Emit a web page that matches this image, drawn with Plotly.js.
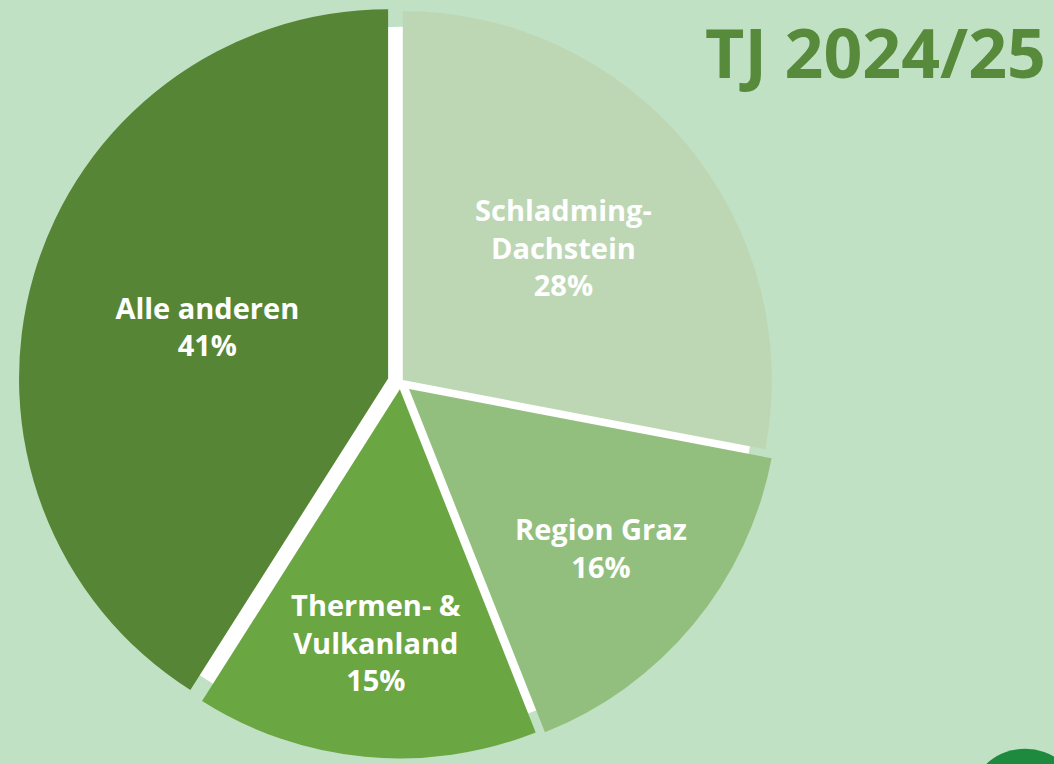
<!DOCTYPE html>
<html>
<head>
<meta charset="utf-8">
<script src="https://cdn.plot.ly/plotly-3.0.1.min.js"></script>
<style>
  html, body { margin: 0; padding: 0; background: #c1e1c5; }
  #chart { width: 1054px; height: 764px; }
</style>
</head>
<body>
<div id="chart"></div>
<script>
// Regionen und Anteile (TJ 2024/25)
let regionen = ['Schladming-<br>Dachstein', 'Region Graz', 'Thermen- &<br>Vulkanland', 'Alle anderen'];
let anteile = [28, 16, 15, 41];
let farben = ['#bdd7b4', '#93bf7e', '#6aa642', '#568535'];
let pulls = [0.008, 0.03, 0.02, 0.035];

let hintergrund = '#c1e1c5';

// weiße Scheibe darunter, damit die Lücken weiß erscheinen
let unterlage = {
    type: 'pie',
    values: [1],
    labels: [''],
    marker: { colors: ['#ffffff'] },
    textinfo: 'none',
    hoverinfo: 'skip',
    showlegend: false,
    sort: false,
    domain: { x: [0, 0.76], y: [0.035, 0.965] }
};

let torte = {
    type: 'pie',
    values: anteile,
    labels: regionen,
    sort: false,
    direction: 'clockwise',
    rotation: 0,
    pull: pulls,
    marker: { colors: farben, line: { width: 0 } },
    textinfo: 'label+percent',
    texttemplate: '<b>%{label}<br>%{percent:.0%}</b>',
    textposition: 'inside',
    insidetextorientation: 'horizontal',
    insidetextfont: { family: 'Open Sans', size: 29, color: '#ffffff' },
    showlegend: false,
    domain: { x: [0, 0.76], y: [0, 1] }
};

let layout = {
    width: 1054,
    height: 764,
    margin: { l: 0, r: 0, t: 0, b: 0 },
    paper_bgcolor: hintergrund,
    plot_bgcolor: hintergrund,
    showlegend: false,
    annotations: [
        {
            text: '<b>TJ 2024/25</b>',
            xref: 'paper', yref: 'paper',
            x: 0.667, y: 0.932,
            xanchor: 'left', yanchor: 'middle',
            showarrow: false,
            font: { family: 'Open Sans', size: 68, color: '#578a3a' }
        }
    ],
    // Logo-Ecke unten rechts
    shapes: [
        { type: 'circle', xref: 'paper', yref: 'paper', x0: 0.925, x1: 1.02, y0: -0.09, y1: 0.02,
          fillcolor: '#1d8a3e', line: { width: 0 } }
    ]
};

Plotly.newPlot('chart', [unterlage, torte], layout, { displayModeBar: false });
</script>
</body>
</html>
